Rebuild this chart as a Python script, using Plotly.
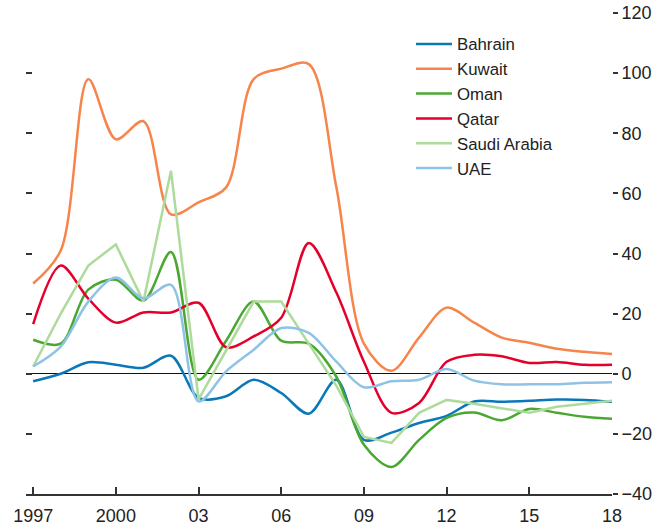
import plotly.graph_objects as go

years = list(range(1997, 2019))

bahrain = [-2.5, 0, 3.8, 3, 2, 6, -8, -7.5, -2, -6.4, -13.3, -2, -22, -19.6, -16.4, -14, -9.2, -9.3, -9, -8.6, -8.7, -9.3]
kuwait = [30, 41, 98, 78, 84, 53, 57, 62, 98, 101.5, 103, 62, 10, 1, 12, 22, 17, 12, 10.3, 8.3, 7.3, 6.6]
oman = [11.3, 10, 28, 31.3, 24.3, 40.5, -2, 11, 24, 11, 10, -1, -23.6, -31, -22, -14.7, -12.9, -15.5, -11.7, -13, -14.3, -15]
qatar = [16.5, 36, 25, 17, 20.4, 20.4, 23.6, 8.8, 12.4, 18.6, 43.5, 27, 4, -13, -9.7, 4, 6.3, 5.8, 3.6, 3.9, 3, 3]
saudi = [2.4, 20, 36, 43, 24, 67.5, -8.5, 8, 24, 24, 10, -4, -21, -23, -13, -8.7, -10, -11.5, -13, -11, -10, -9]
uae = [2.4, 9, 24, 32, 25, 29.6, -9.2, 0.8, 8, 15.2, 13.6, 4, -4.5, -2.5, -2, 1.6, -2.3, -3.5, -3.5, -3.5, -3, -2.8]

series = [
    ("Bahrain", bahrain, "#0a78b8", "spline"),
    ("Kuwait", kuwait, "#f7844a", "spline"),
    ("Oman", oman, "#4aa832", "spline"),
    ("Qatar", qatar, "#e4002b", "spline"),
    ("Saudi Arabia", saudi, "#addb9b", "linear"),
    ("UAE", uae, "#8ec3e6", "spline"),
]

tick_vals = [1997, 2000, 2003, 2006, 2009, 2012, 2015, 2018]
tick_text = ["1997", "2000", "03", "06", "09", "12", "15", "18"]
y_ticks = [-40, -20, 0, 20, 40, 60, 80, 100, 120]

FONT = "Liberation Sans, Arial, Helvetica, sans-serif"

fig = go.Figure()
for name, vals, color, shape in series:
    fig.add_trace(go.Scatter(
        x=years, y=vals, name=name, mode="lines",
        line=dict(color=color, width=2.5, shape=shape, smoothing=0.9 if shape == "spline" else None),
        yaxis="y2",
    ))

fig.update_layout(
    width=666, height=529,
    margin=dict(l=26, r=54, t=13, b=35),
    paper_bgcolor="white", plot_bgcolor="white",
    font=dict(family=FONT, size=18, color="#222"),
    showlegend=True,
    legend=dict(x=0.657, y=0.972, xanchor="left", yanchor="top",
                font=dict(size=16.8), bgcolor="rgba(0,0,0,0)",
                tracegroupgap=0, itemwidth=36),
    xaxis=dict(range=[1996.74, 2018], tickvals=tick_vals, ticktext=tick_text,
               ticks="inside", ticklen=7, tickcolor="#333", tickwidth=1.5,
               showline=True, linecolor="#333", linewidth=1.5, automargin=False,
               ticklabelstandoff=5,
               showgrid=False, zeroline=False, tickfont=dict(size=18)),
    yaxis=dict(range=[-40, 120], tickvals=y_ticks, showticklabels=False,
               ticks="inside", ticklen=6, tickcolor="#333", tickwidth=1.5, automargin=False,
               showgrid=False, zeroline=False, showline=False),
    yaxis2=dict(range=[-40, 120], tickvals=y_ticks, overlaying="y", side="right",
                ticks="outside", ticklen=5, tickcolor="#333", tickwidth=1.5, automargin=False,
                ticklabeloverflow="allow",
                showgrid=False, zeroline=True, zerolinecolor="#111", zerolinewidth=1,
                showline=False, tickfont=dict(size=18)),
)
# dummy trace to show left axis ticks
fig.add_trace(go.Scatter(x=[None], y=[None], yaxis="y", showlegend=False))

fig.write_html("out.html", config={"displayModeBar": False},
               post_script="document.body.style.margin='0';")
